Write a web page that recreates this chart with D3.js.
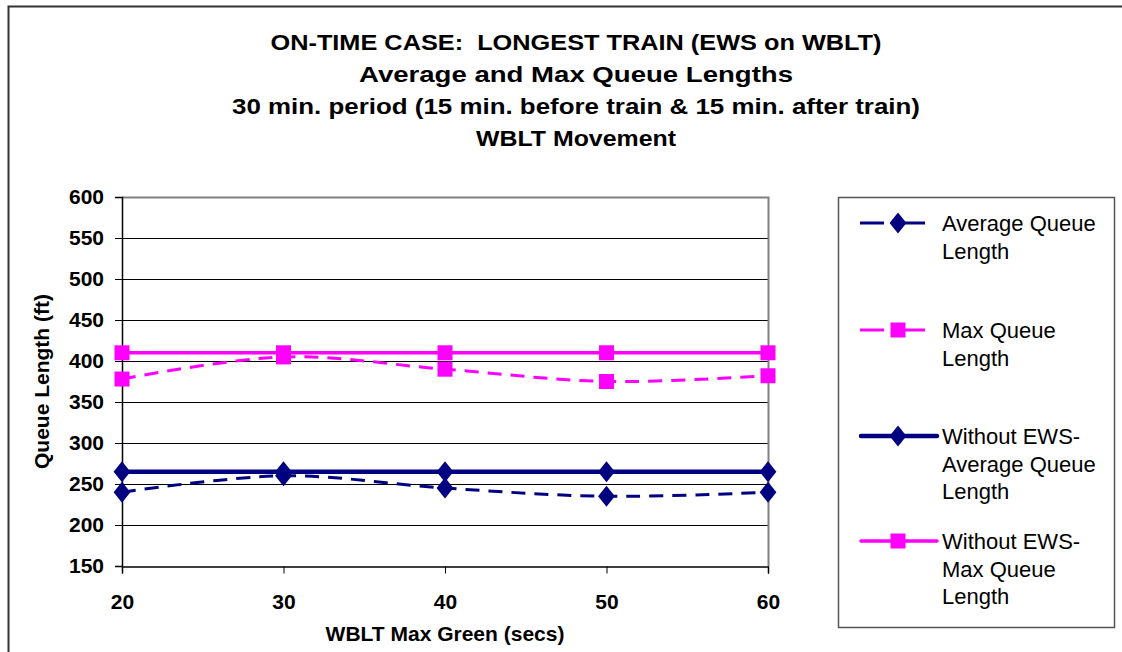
<!DOCTYPE html>
<html><head><meta charset="utf-8">
<script src="https://cdn.jsdelivr.net/npm/d3@7"></script>
<style>
html,body{margin:0;padding:0;background:#fff;}
text{font-family:"Liberation Sans",Arial,sans-serif;}
</style></head>
<body>
<svg id="chart" width="1122" height="652"></svg>
<script>
const greens = [20, 30, 40, 50, 60];
const avgQueue = [240, 260, 245, 235, 240];
const maxQueue = [378, 405, 390, 375, 382];
const withoutAvg = [265, 265, 265, 265, 265];
const withoutMax = [410, 410, 410, 410, 410];
const yTicks = [150, 200, 250, 300, 350, 400, 450, 500, 550, 600];
const titleLines = ["ON-TIME CASE:  LONGEST TRAIN (EWS on WBLT)", "Average and Max Queue Lengths", "30 min. period (15 min. before train & 15 min. after train)", "WBLT Movement"];
const seriesNames = [["Average Queue", "Length"], ["Max Queue", "Length"], ["Without EWS-", "Average Queue", "Length"], ["Without EWS-", "Max Queue", "Length"]];

const svg = d3.select("#chart");
const NAVY = "#000080", PINK = "#FF00FF";
const FONT = '"Liberation Sans",Arial,sans-serif';

// outer border
svg.append("rect").attr("x", 8.5).attr("y", 6.5).attr("width", 1130).attr("height", 660)
  .attr("fill", "#fff").attr("stroke", "#333").attr("stroke-width", 2);

const x = d3.scaleLinear().domain([20, 60]).range([122, 768]);
const y = d3.scaleLinear().domain([150, 600]).range([566, 197]);

// title
const titleWidths = [611, 434, 688, 200];
const titleBase = [50, 82, 114, 146];
const tl = svg.append("g");
titleLines.forEach((t, i) => {
  tl.append("text").attr("x", 576).attr("y", titleBase[i]).attr("text-anchor", "middle")
    .attr("font-size", 22).attr("font-weight", "bold")
    .attr("textLength", titleWidths[i]).attr("lengthAdjust", "spacingAndGlyphs")
    .attr("xml:space", "preserve").style("white-space", "pre").text(t);
});

// grid
const g = svg.append("g");
g.selectAll("line.grid").data(yTicks.filter(v => v > 150 && v < 600)).enter().append("line")
  .attr("x1", x(20)).attr("x2", x(60)).attr("y1", d => Math.round(y(d)) + 0.5).attr("y2", d => Math.round(y(d)) + 0.5)
  .attr("stroke", "#000").attr("stroke-width", 1);
// plot border top & right
g.append("path").attr("d", `M${x(20)},${Math.round(y(600)) + 0.5}H${x(60) + 0.5}V${y(150)}`)
  .attr("fill", "none").attr("stroke", "#808080").attr("stroke-width", 2);

// axes
const yAxis = d3.axisLeft(y).tickValues(yTicks).tickSize(7).tickPadding(11);
const ya = svg.append("g").attr("transform", `translate(${x(20)},0)`).call(yAxis);
const xAxis = d3.axisBottom(x).tickValues(greens).tickSize(7).tickPadding(21);
const xa = svg.append("g").attr("transform", `translate(0,${Math.round(y(150)) + 0.5})`).call(xAxis);
[ya, xa].forEach(a => {
  a.attr("font-size", 21).attr("font-family", FONT);
  a.select(".domain").attr("stroke", "#000").attr("stroke-width", 1.5);
  a.selectAll(".tick line").attr("stroke", "#000");
  a.selectAll("text").attr("font-size", 21).attr("font-weight", "bold").attr("fill", "#000");
});

svg.append("text").attr("x", 445).attr("y", 641).attr("text-anchor", "middle")
  .attr("font-size", 21).attr("font-weight", "bold").text("WBLT Max Green (secs)");
svg.append("text").attr("transform", `translate(49,${(197 + 566) / 2}) rotate(-90)`).attr("text-anchor", "middle")
  .attr("font-size", 21).attr("font-weight", "bold").text("Queue Length (ft)");

// series
const series = [
  {vals: avgQueue, color: NAVY, dash: "14,9", w: 3, marker: "diamond"},
  {vals: maxQueue, color: PINK, dash: "14,9", w: 3, marker: "square"},
  {vals: withoutAvg, color: NAVY, dash: null, w: 4.5, marker: "diamond"},
  {vals: withoutMax, color: PINK, dash: null, w: 3.5, marker: "square"}
];
const line = d3.line().x((d, i) => x(greens[i])).y(d => y(d)).curve(d3.curveCatmullRom.alpha(0.5));
const diamond = s => `M0,${-s}L${s * 0.8},0L0,${s}L${-s * 0.8},0Z`;
function drawMarker(sel, type, cx, cy, color) {
  if (type === "diamond") sel.append("path").attr("d", diamond(10.5)).attr("transform", `translate(${cx},${cy})`).attr("fill", color);
  else sel.append("rect").attr("x", cx - 7.5).attr("y", cy - 7.5).attr("width", 15).attr("height", 15).attr("fill", color);
}
const sg = svg.append("g");
series.forEach(s => {
  sg.append("path").datum(s.vals).attr("d", line).attr("fill", "none").attr("stroke", s.color)
    .attr("stroke-width", s.w).attr("stroke-dasharray", s.dash);
});
series.forEach(s => {
  s.vals.forEach((v, i) => drawMarker(sg, s.marker, x(greens[i]), y(v), s.color));
});

// legend
const lg = svg.append("g");
lg.append("rect").attr("x", 838.5).attr("y", 197.5).attr("width", 276).attr("height", 430)
  .attr("fill", "#fff").attr("stroke", "#555").attr("stroke-width", 1.5);
const rows = [223, 330, 436, 541];
series.forEach((s, i) => {
  const cy = rows[i];
  if (s.dash) {
    lg.append("line").attr("x1", 860).attr("x2", 884).attr("y1", cy).attr("y2", cy).attr("stroke", s.color).attr("stroke-width", s.w);
    lg.append("line").attr("x1", 898).attr("x2", 925).attr("y1", cy).attr("y2", cy).attr("stroke", s.color).attr("stroke-width", s.w);
  } else {
    lg.append("line").attr("x1", 861).attr("x2", 937).attr("y1", cy).attr("y2", cy).attr("stroke", s.color)
      .attr("stroke-width", s.w).attr("stroke-linecap", "round");
  }
  drawMarker(lg, s.marker, 898, cy, s.color);
  seriesNames[i].forEach((t, j) => {
    lg.append("text").attr("x", 942).attr("y", cy + 8 + j * 27.5).attr("font-size", 22).text(t);
  });
});
</script>
</body></html>
